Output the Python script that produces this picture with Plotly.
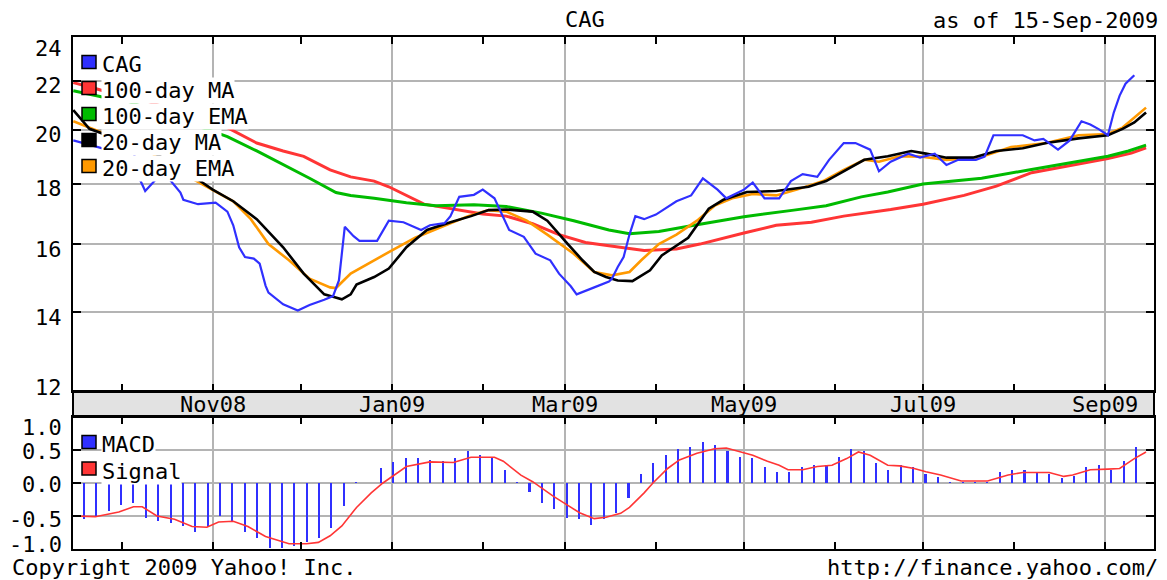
import math
import pandas as pd
import plotly.graph_objects as go

# ---------------- data ----------------
cag = [("2008-09-14 12:00",19.6),("2008-09-18",19.5),("2008-09-26",19.25),("2008-10-05",19.2),
       ("2008-10-07",18.2),("2008-10-09",17.75),("2008-10-13",18.2),("2008-10-17",18.2),
       ("2008-10-21",17.7),("2008-10-22",17.45),("2008-10-27",17.3),("2008-11-02",17.35),
       ("2008-11-06",17.05),("2008-11-08",16.6),("2008-11-10",15.9),("2008-11-12",15.6),
       ("2008-11-15",15.55),("2008-11-17",15.4),("2008-11-19",14.75),("2008-11-20",14.55),
       ("2008-11-25",14.22),("2008-11-30",14.05),("2008-12-04",14.2),("2008-12-09",14.35),
       ("2008-12-12",14.45),("2008-12-14",14.9),("2008-12-15",15.8),("2008-12-16",16.55),
       ("2008-12-19",16.25),("2008-12-21",16.1),("2008-12-27",16.1),("2008-12-31",16.75),
       ("2009-01-05",16.7),("2009-01-11",16.45),("2009-01-14",16.6),("2009-01-19",16.67),
       ("2009-01-21",16.9),("2009-01-24",17.55),("2009-01-29",17.62),("2009-02-01",17.8),
       ("2009-02-05",17.5),("2009-02-07",17.05),("2009-02-10",16.45),("2009-02-15",16.23),
       ("2009-02-19",15.7),("2009-02-24",15.5),("2009-02-27",15.1),("2009-03-03",14.73),
       ("2009-03-05",14.5),("2009-03-11",14.7),("2009-03-16",14.87),("2009-03-17",14.95),
       ("2009-03-19",15.3),("2009-03-21",15.6),("2009-03-23",16.3),("2009-03-25",16.9),
       ("2009-03-28",16.8),("2009-04-01",16.95),("2009-04-06",17.25),("2009-04-08",17.4),
       ("2009-04-13",17.6),("2009-04-17",18.2),("2009-04-22",17.8),("2009-04-25",17.5),
       ("2009-05-01",17.8),("2009-05-04",18.05),("2009-05-08",17.5),("2009-05-13",17.5),
       ("2009-05-17",18.1),("2009-05-21",18.35),("2009-05-26",18.25),("2009-05-30",18.87),
       ("2009-06-04",19.5),("2009-06-08",19.5),("2009-06-13",19.25),("2009-06-16",18.45),
       ("2009-06-20",18.8),("2009-06-26",19.1),("2009-06-30",18.95),("2009-07-05",19.1),
       ("2009-07-09",18.68),("2009-07-13",18.87),("2009-07-19",18.87),("2009-07-22",18.99),
       ("2009-07-25",19.8),("2009-07-30",19.8),("2009-08-04",19.8),("2009-08-08",19.6),
       ("2009-08-11",19.66),("2009-08-16",19.25),("2009-08-20",19.6),("2009-08-24",20.35),
       ("2009-08-27",20.22),("2009-08-30",20.03),("2009-09-02",19.8),("2009-09-04",20.7),
       ("2009-09-06",21.4),("2009-09-08",21.9),("2009-09-11",22.27)]

ma100 = [("2008-09-14 12:00",21.95),("2008-09-22",21.7),("2008-10-03",21.3),("2008-10-09",21.2),
         ("2008-10-29",20.35),("2008-11-02",20.25),("2008-11-06",20.1),("2008-11-16",19.5),
         ("2008-11-25",19.2),("2008-12-02",19.0),("2008-12-11",18.5),("2008-12-18",18.25),
         ("2008-12-26",18.1),("2008-12-31",17.9),("2009-01-12",17.3),("2009-01-21",17.15),
         ("2009-02-01",16.97),("2009-02-09",16.9),("2009-02-18",16.65),("2009-02-27",16.3),
         ("2009-03-08",16.05),("2009-03-16",15.95),("2009-03-28",15.8),("2009-04-08",15.85),
         ("2009-04-16",16.0),("2009-05-01",16.35),("2009-05-12",16.6),("2009-05-24",16.7),
         ("2009-06-04",16.9),("2009-06-20",17.12),("2009-07-01",17.3),("2009-07-15",17.6),
         ("2009-07-26",17.92),("2009-08-07",18.4),("2009-08-18",18.62),("2009-09-02",18.92),
         ("2009-09-10",19.12),("2009-09-15",19.32)]

ema100 = [("2008-09-14 12:00",21.6),("2008-09-24",21.35),("2008-10-01",21.25),("2008-10-25",20.25),
          ("2008-11-06",19.75),("2008-11-16",19.2),("2008-11-25",18.7),("2008-12-04",18.2),
          ("2008-12-13",17.7),("2008-12-18",17.6),("2008-12-26",17.5),("2009-01-06",17.35),
          ("2009-01-16",17.25),("2009-01-29",17.28),("2009-02-09",17.22),("2009-02-21",17.0),
          ("2009-03-04",16.75),("2009-03-16",16.45),("2009-03-23",16.33),("2009-04-02",16.4),
          ("2009-04-14",16.6),("2009-05-01",16.88),("2009-05-18",17.1),("2009-05-29",17.25),
          ("2009-06-10",17.55),("2009-06-19",17.72),("2009-07-01",18.0),("2009-07-21",18.2),
          ("2009-08-06",18.5),("2009-08-18",18.72),("2009-09-02",19.0),("2009-09-09",19.2),
          ("2009-09-15",19.42)]

ma20 = [("2008-09-14 12:00",20.8),("2008-09-20",20.05),("2008-10-11",19.2),("2008-10-25",18.3),
        ("2008-11-01",17.8),("2008-11-08",17.4),("2008-11-16",16.8),("2008-11-25",15.9),
        ("2008-12-02",15.1),("2008-12-09",14.5),("2008-12-12",14.43),("2008-12-15",14.36),
        ("2008-12-18",14.5),("2008-12-20",14.78),("2008-12-26",15.0),("2008-12-31",15.25),
        ("2009-01-06",15.9),("2009-01-13",16.45),("2009-01-21",16.7),("2009-01-28",16.9),
        ("2009-02-03",17.1),("2009-02-09",17.12),("2009-02-18",17.05),("2009-02-23",16.75),
        ("2009-03-02",16.0),("2009-03-07",15.5),("2009-03-11",15.15),("2009-03-15",15.0),
        ("2009-03-19",14.9),("2009-03-24",14.88),("2009-03-30",15.2),("2009-04-03",15.65),
        ("2009-04-12",16.2),("2009-04-19",17.15),("2009-04-24",17.45),("2009-05-02",17.72),
        ("2009-05-12",17.75),("2009-05-23",17.9),("2009-05-29",18.1),("2009-06-04",18.45),
        ("2009-06-11",18.87),("2009-06-19",19.0),("2009-06-23",19.1),("2009-06-27",19.2),
        ("2009-07-02",19.1),("2009-07-09",18.95),("2009-07-18",18.95),("2009-07-26",19.2),
        ("2009-08-04",19.3),("2009-08-12",19.5),("2009-08-23",19.68),("2009-09-02",19.8),
        ("2009-09-07",20.05),("2009-09-11",20.3),("2009-09-15",20.7)]

ema20 = [("2008-09-14 12:00",20.35),("2008-09-20",20.1),("2008-10-10",19.2),("2008-10-23",18.3),
         ("2008-11-01",17.8),("2008-11-08",17.4),("2008-11-14",16.8),("2008-11-20",16.0),
         ("2008-11-27",15.5),("2008-12-04",14.95),("2008-12-11",14.7),("2008-12-13",14.68),
         ("2008-12-18",15.1),("2008-12-19",15.15),("2008-12-26",15.5),("2008-12-31",15.75),
         ("2009-01-09",16.2),("2009-01-17",16.5),("2009-01-27",16.9),("2009-02-03",17.1),
         ("2009-02-09",17.05),("2009-02-16",16.75),("2009-02-23",16.3),("2009-03-04",15.7),
         ("2009-03-11",15.15),("2009-03-17",15.05),("2009-03-23",15.15),("2009-03-27",15.5),
         ("2009-04-02",16.0),("2009-04-08",16.3),("2009-04-15",16.75),("2009-04-21",17.25),
         ("2009-04-27",17.5),("2009-05-04",17.65),("2009-05-12",17.6),("2009-05-19",17.8),
         ("2009-05-28",18.1),("2009-06-04",18.5),("2009-06-11",18.87),("2009-06-16",18.8),
         ("2009-06-23",19.0),("2009-06-30",18.99),("2009-07-09",18.87),("2009-07-20",18.95),
         ("2009-07-31",19.35),("2009-08-12",19.5),("2009-08-23",19.8),("2009-09-02",19.85),
         ("2009-09-07",20.1),("2009-09-15",20.9)]

macd_start = "2008-09-18 03:00"     # first MACD bar, bars every 3 trading sessions
macd_step = "6072min"
macd = [-0.54,-0.50,-0.43,-0.34,-0.31,-0.53,-0.58,-0.61,-0.65,-0.74,
        -0.67,-0.50,-0.57,-0.74,-0.83,-0.98,-0.98,-0.96,-0.89,-0.83,
        -0.68,-0.35,0.02,0.0,0.22,0.32,0.38,0.38,0.35,0.33,
        0.38,0.48,0.42,0.40,0.20,0.01,-0.13,-0.31,-0.40,-0.53,
        -0.55,-0.64,-0.55,-0.45,-0.22,0.13,0.31,0.43,0.51,0.55,
        0.62,0.57,0.48,0.39,0.38,0.25,0.16,0.16,0.25,0.28,
        0.28,0.40,0.52,0.48,0.31,0.19,0.28,0.25,0.13,0.09,
        0.01,0.01,0.01,0.02,0.16,0.19,0.19,0.16,0.13,0.07,
        0.11,0.24,0.28,0.19,0.34,0.55]

signal = [("2008-09-14 12:00",-0.50),("2008-09-22",-0.51),("2008-09-30",-0.44),("2008-10-05",-0.36),
          ("2008-10-08",-0.36),("2008-10-13",-0.50),("2008-10-19",-0.55),("2008-10-25",-0.66),
          ("2008-10-30",-0.67),("2008-11-03",-0.59),("2008-11-08",-0.58),("2008-11-13",-0.66),
          ("2008-11-19",-0.81),("2008-11-27",-0.92),("2008-12-03",-0.92),("2008-12-07",-0.90),
          ("2008-12-11",-0.80),("2008-12-15",-0.65),("2008-12-20",-0.37),("2008-12-25",-0.15),
          ("2008-12-29",0.0),("2009-01-03",0.16),("2009-01-06",0.25),("2009-01-14",0.32),
          ("2009-01-22",0.31),("2009-01-28",0.39),("2009-02-05",0.39),("2009-02-08",0.33),
          ("2009-02-14",0.12),("2009-02-18",0.02),("2009-02-25",-0.20),("2009-03-02",-0.34),
          ("2009-03-06",-0.45),("2009-03-11",-0.54),("2009-03-15",-0.52),("2009-03-20",-0.46),
          ("2009-03-23",-0.37),("2009-03-28",-0.15),("2009-03-31",0.0),("2009-04-05",0.22),
          ("2009-04-09",0.35),("2009-04-15",0.45),("2009-04-21",0.52),("2009-04-25",0.53),
          ("2009-04-30",0.47),("2009-05-04",0.42),("2009-05-09",0.33),("2009-05-13",0.27),
          ("2009-05-16",0.20),("2009-05-21",0.20),("2009-05-26",0.25),("2009-05-31",0.27),
          ("2009-06-05",0.37),("2009-06-09",0.47),("2009-06-13",0.42),("2009-06-19",0.27),
          ("2009-06-23",0.26),("2009-06-28",0.22),("2009-07-02",0.17),("2009-07-07",0.12),
          ("2009-07-14",0.03),("2009-07-23",0.03),("2009-07-30",0.12),("2009-08-04",0.16),
          ("2009-08-13",0.16),("2009-08-18",0.10),("2009-08-21",0.12),("2009-08-27",0.20),
          ("2009-09-02",0.21),("2009-09-06",0.22),("2009-09-11",0.37),("2009-09-15",0.47)]

price_ticks = [12, 14, 16, 18, 20, 22, 24]
macd_ticks = [-1.0, -0.5, 0.0, 0.5, 1.0]
month_ticks = ["2008-11-01", "2009-01-01", "2009-03-01", "2009-05-01", "2009-07-01", "2009-09-01"]
month_labels = ["Nov08", "Jan09", "Mar09", "May09", "Jul09", "Sep09"]
legend_main = ["CAG", "100-day MA", "100-day EMA", "20-day MA", "20-day EMA"]
legend_macd = ["MACD", "Signal"]

# ---------------- styling / layout helpers ----------------
FONT = "DejaVu Sans Mono"
TXT = dict(family=FONT, size=22, color="black")
BLUE, RED, GREEN, BLACK, ORANGE = "#3030ff", "#ff3535", "#00bb00", "#000000", "#ff9900"
GRID = "#b4b4b4"
L, R, T, B = 73, 1154, 37, 549          # plot block in pixels
MAIN_BOTTOM, MACD_TOP = 391, 417
# label centres (px) for the left-hand scale texts, nudged inside at the extremes
price_label_y = [387, 317, 249, 188, 134, 85, 48]
macd_label_y = [544, 519, 484, 451, 427]


def px(x):
    return (x - L) / (R - L)


def py(y):
    return (B - y) / (B - T)


def split(pairs):
    return [p[0] for p in pairs], [p[1] for p in pairs]


fig = go.Figure()
for pairs, color, width in [(ma100, RED, 3), (ema100, GREEN, 3), (ema20, ORANGE, 2.6),
                            (ma20, BLACK, 2.6), (cag, BLUE, 2.2)]:
    xs, ys = split(pairs)
    fig.add_trace(go.Scatter(x=xs, y=ys, mode="lines", line=dict(color=color, width=width),
                             xaxis="x", yaxis="y", hoverinfo="skip"))

macd_dates = pd.date_range(macd_start, periods=len(macd), freq=macd_step)
fig.add_trace(go.Bar(x=macd_dates, y=macd, width=0.7 * 86400000,
                     marker=dict(color=BLUE, line_width=0), xaxis="x2", yaxis="y2"))
sx, sy = split(signal)
fig.add_trace(go.Scatter(x=sx, y=sy, mode="lines", line=dict(color=RED, width=1.6),
                         xaxis="x2", yaxis="y2"))

x_common = dict(type="date", range=["2008-09-14 09:36", "2009-09-17 17:00"],
                showline=True, linecolor="black", linewidth=2, mirror="ticks",
                ticks="inside", ticklen=7, tickwidth=2, tickcolor="black",
                dtick="M2", tick0="2008-11-01", showgrid=True, gridcolor=GRID, gridwidth=2,
                zeroline=False, automargin=False, showticklabels=False,
                minor=dict(dtick="M1", tick0="2008-10-01", ticks="inside", ticklen=7,
                           tickwidth=2, tickcolor="black", showgrid=False))
y_common = dict(showline=True, linecolor="black", linewidth=2, mirror="ticks",
                ticks="inside", ticklen=8, tickwidth=2, tickcolor="black",
                showgrid=True, gridcolor=GRID, gridwidth=2, zeroline=False, automargin=False,
                showticklabels=False)

fig.update_layout(
    width=1167, height=580,
    margin=dict(l=L, r=1167 - R, t=T, b=580 - B),
    paper_bgcolor="white", plot_bgcolor="white", showlegend=False, bargap=0,
    xaxis=dict(**x_common, domain=[0, 1], anchor="y"),
    xaxis2=dict(**x_common, domain=[0, 1], anchor="y2", matches="x"),
    yaxis=dict(**y_common, type="log", range=[math.log10(12), math.log10(24)],
               domain=[py(MAIN_BOTTOM), 1], anchor="x", tickvals=price_ticks),
    yaxis2=dict(**y_common, range=[-1, 1], domain=[0, py(MACD_TOP)], anchor="x2",
                tickvals=macd_ticks),
)

shapes = [dict(type="rect", xref="paper", yref="paper", x0=0, x1=1,
               y0=py(MACD_TOP), y1=py(MAIN_BOTTOM), fillcolor="#e2e2e2",
               line=dict(color="black", width=2), layer="below")]
annotations = []

# scale labels (the lowest MACD label gets a compact box: it sits just above the footer)
for v, yc in zip(price_ticks, price_label_y):
    annotations.append(dict(text=str(v), xref="paper", yref="paper", x=px(64), y=py(yc),
                            xanchor="right", yanchor="middle", showarrow=False, font=TXT))
for v, yc in zip(macd_ticks, macd_label_y):
    extra = dict(height=18, valign="middle") if v == -1.0 else {}
    annotations.append(dict(text=f"{v:.1f}", xref="paper", yref="paper", x=px(64), y=py(yc),
                            xanchor="right", yanchor="middle", showarrow=False, font=TXT,
                            **extra))
for d, lab in zip(month_ticks, month_labels):
    annotations.append(dict(text=lab, xref="x", yref="paper", x=d, y=py(404.5),
                            xanchor="center", yanchor="middle", showarrow=False, font=TXT))

# legends
leg_colors = [BLUE, RED, GREEN, BLACK, ORANGE]
leg_sq_y = [62, 88, 114, 140, 166]
for name, col, yc in zip(legend_main, leg_colors, leg_sq_y):
    shapes.append(dict(type="rect", xref="paper", yref="paper", x0=px(82), x1=px(96),
                       y0=py(yc + 6.5), y1=py(yc - 6.5), fillcolor=col,
                       line=dict(color="black", width=1.5), layer="above"))
    annotations.append(dict(text=name, xref="paper", yref="paper", x=px(101), y=py(yc + 2.5),
                            xanchor="left", yanchor="middle", showarrow=False,
                            bgcolor="white", borderpad=0, font=TXT))

for name, col, yc in zip(legend_macd, [BLUE, RED], [442, 468.5]):
    shapes.append(dict(type="rect", xref="paper", yref="paper", x0=px(82), x1=px(96),
                       y0=py(yc + 6.5), y1=py(yc - 6.5), fillcolor=col,
                       line=dict(color="black", width=1.5), layer="above"))
    annotations.append(dict(text=name, xref="paper", yref="paper", x=px(101), y=py(yc + 2.5),
                            xanchor="left", yanchor="middle", showarrow=False,
                            bgcolor="white", borderpad=0, font=TXT))

for text, x, y, anchor in [("CAG", 585, 19, "center"),
                           ("as of 15-Sep-2009", 1160, 20, "right")]:
    annotations.append(dict(text=text, xref="paper", yref="paper", x=px(x), y=py(y),
                            xanchor=anchor, yanchor="middle", showarrow=False, font=TXT))
for text, x, anchor in [("Copyright 2009 Yahoo! Inc.", 10, "left"),
                        ("http://finance.yahoo.com/", 1160, "right")]:
    annotations.append(dict(text=text, xref="paper", yref="paper", x=px(x), y=py(567),
                            xanchor=anchor, yanchor="middle", showarrow=False, font=TXT,
                            height=26, valign="middle"))

fig.update_layout(shapes=shapes, annotations=annotations)
fig.write_html("out.html", config={"displayModeBar": False, "staticPlot": True})

# remove the browser's default page margin so the figure sits at the window origin
with open("out.html", encoding="utf-8") as fh:
    page = fh.read()
page = page.replace("<head>", "<head><style>html,body{margin:0;padding:0;overflow:hidden;}</style>", 1)
with open("out.html", "w", encoding="utf-8") as fh:
    fh.write(page)
